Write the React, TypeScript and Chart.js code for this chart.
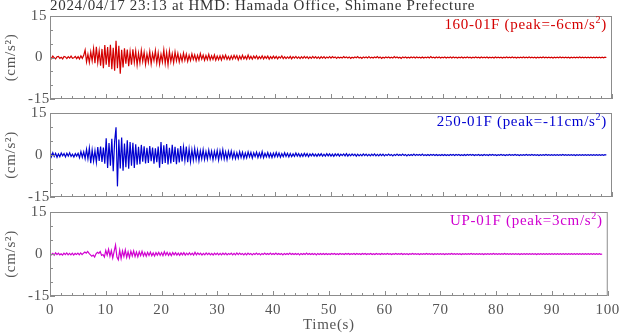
import React, { useEffect, useRef } from "react";
import { Chart, registerables } from "chart.js";

Chart.register(...registerables);

// ---------------- data ----------------
const CHART_TITLE = "2024/04/17 23:13 at HMD: Hamada Office, Shimane Prefecture";
const X_AXIS_TITLE = "Time(s)";
const Y_AXIS_TITLE = "(cm/s²)";
const SAMPLE_STEP = 0.25; // seconds between samples
const X_MIN = 0;
const X_MAX = 100;
const Y_MIN = -15;
const Y_MAX = 15;

// label = main text + superscript + closing text
const NS_LABEL = ["160-01F (peak=-6cm/s", "2", ")"];
const EW_LABEL = ["250-01F (peak=-11cm/s", "2", ")"];
const UD_LABEL = ["UP-01F (peak=3cm/s", "2", ")"];

const NS_VALUES = [
  0.2,-0.4,0.5,-0.1,-0.5,0.3,0.4,-0.3,0.1,-0.5,0.4,0.2,-0.4,0.3,-0.2,0.5,-0.3,-0.1,0.4,-0.4,
  0.3,-0.5,0.6,-0.3,0.8,2.7,-1.6,1.2,-1.8,2.0,-1.2,3.2,-2.1,3.9,-1.8,2.4,-3.0,3.1,-3.9,4.5,
  -2.6,3.8,-3.4,4.6,-4.2,3.5,-4.8,6.0,-3.9,4.2,-5.9,2.8,-3.6,3.3,-2.2,2.9,-3.1,2.1,-2.6,3.0,
  -1.8,2.4,-2.7,1.6,-2.0,2.6,-1.4,1.9,-2.5,1.3,-1.7,2.2,-2.3,1.5,-1.1,2.5,-2.0,1.7,-2.4,1.2,
  -1.6,2.7,-2.2,1.8,-2.6,2.3,-1.5,1.4,-1.9,2.0,-1.2,1.5,-1.6,0.9,-1.3,1.6,-1.0,1.2,-1.4,0.8,
  -1.1,1.3,-0.7,1.0,-1.2,0.8,-0.9,1.4,-0.6,0.9,-1.0,0.7,-0.8,1.1,-0.9,0.6,-0.7,0.9,-1.0,0.5,
  -0.8,0.6,-0.9,0.7,-0.5,0.9,-0.7,0.4,-0.8,0.6,-0.6,0.8,-0.4,0.7,-0.9,0.5,-0.6,0.8,-0.5,0.4,
  -0.6,0.9,-0.5,0.4,-0.6,0.5,-0.3,0.6,-0.5,0.3,-0.4,0.6,-0.5,0.4,-0.3,0.5,-0.6,0.3,-0.4,0.5,
  -0.3,0.4,-0.5,0.3,-0.2,0.6,-0.4,0.3,-0.4,0.2,-0.3,0.4,-0.5,0.3,-0.2,0.4,-0.3,0.2,-0.4,0.3,
  -0.3,0.4,-0.2,0.3,-0.4,0.2,-0.3,0.4,-0.2,0.3,-0.3,0.2,-0.4,0.3,-0.2,0.3,-0.3,0.2,-0.2,0.3,
  -0.2,0.3,-0.1,0.2,-0.3,0.2,-0.2,0.1,-0.2,0.3,-0.1,0.2,-0.2,0.2,-0.3,0.1,-0.2,0.2,-0.1,0.3,
  -0.2,0.1,-0.3,0.2,-0.1,0.2,-0.2,0.3,-0.2,0.1,-0.2,0.2,-0.1,0.3,-0.2,0.2,-0.3,0.1,-0.2,0.2,
  -0.1,0.2,-0.2,0.1,-0.2,0.3,-0.1,0.2,-0.2,0.1,-0.3,0.2,-0.1,0.2,-0.2,0.1,-0.2,0.2,-0.1,0.2,
  -0.2,0.2,-0.1,0.1,-0.2,0.2,-0.2,0.1,-0.1,0.2,-0.2,0.3,-0.1,0.1,-0.2,0.2,-0.1,0.2,-0.2,0.1,
  -0.1,0.2,-0.2,0.1,-0.1,0.2,-0.2,0.2,-0.1,0.1,-0.2,0.1,-0.1,0.2,-0.2,0.1,-0.1,0.2,-0.1,0.1,
  -0.2,0.1,-0.1,0.2,-0.1,0.1,-0.2,0.2,-0.1,0.1,-0.1,0.2,-0.2,0.1,-0.1,0.1,-0.2,0.2,-0.1,0.1,
  -0.1,0.1,-0.2,0.1,-0.1,0.2,-0.1,0.1,-0.1,0.2,-0.1,0.1,-0.2,0.1,-0.1,0.1,-0.1,0.2,-0.1,0.1,
  -0.1,0.2,-0.1,0.1,-0.1,0.1,-0.2,0.1,-0.1,0.1,-0.1,0.2,-0.1,0.1,-0.1,0.1,-0.1,0.1,-0.2,0.1,
  -0.1,0.1,-0.1,0.2,-0.1,0.1,-0.1,0.1,-0.1,0.1,-0.2,0.1,-0.1,0.1,-0.1,0.1,-0.1,0.2,-0.1,0.1,
  -0.1,0.1,-0.1,0.1,-0.1,0.1,-0.1,0.1,-0.1,0.1,-0.1,0.1,-0.1,0.1,-0.1,0.1,0.0,
];

const EW_VALUES = [
  1.4,-0.6,0.8,-0.5,0.6,-0.8,0.4,-0.6,0.7,-0.3,0.5,-0.7,0.6,-0.4,0.8,-0.5,0.3,-0.7,0.5,-0.4,
  0.6,-1.0,1.2,-0.8,1.1,-1.3,2.0,-1.4,2.5,-2.9,1.8,-2.2,1.5,-2.6,2.8,-2.1,3.0,-2.5,2.7,-3.1,
  6.0,-4.6,4.3,-3.8,5.8,-5.8,4.9,9.9,-11.2,5.5,-4.8,6.2,-5.6,4.1,-4.4,5.3,-4.9,4.6,-3.8,4.4,
  -4.6,3.8,-3.5,2.9,-3.3,3.6,-2.4,3.1,-3.0,2.6,-2.8,3.2,-2.2,2.7,-3.1,2.4,-2.6,3.0,-4.5,4.6,
  -3.2,3.5,-2.8,3.9,-3.4,2.6,-3.0,3.6,-2.5,2.9,-3.3,2.4,-2.7,3.2,-2.3,2.8,-2.0,3.0,-2.6,2.2,
  -2.4,1.9,-1.8,2.3,-1.6,1.7,-2.0,1.5,-1.4,1.9,-1.6,1.2,-1.5,1.7,-1.1,1.4,-1.7,1.3,-1.2,1.6,
  -1.8,1.5,-1.2,1.9,-1.4,1.1,-1.6,1.3,-0.9,1.4,-1.2,1.0,-1.3,0.8,-1.1,1.2,-0.9,1.0,-1.2,0.7,
  -1.0,1.1,-0.7,0.9,-1.1,0.8,-0.6,1.0,-0.9,0.7,-0.8,1.2,-1.0,0.6,-0.7,0.9,-0.8,0.6,-0.9,0.7,
  -0.7,0.9,-0.6,0.7,-0.8,0.5,-0.6,0.8,-0.5,0.6,-0.7,0.5,-0.6,0.4,-0.5,0.7,-0.4,0.5,-0.6,0.4,
  -0.5,0.6,-0.4,0.5,-0.6,0.4,-0.3,0.5,-0.4,0.3,-0.5,0.4,-0.3,0.5,-0.4,0.3,-0.4,0.5,-0.3,0.4,
  -0.4,0.3,-0.5,0.4,-0.3,0.4,-0.4,0.3,-0.2,0.4,-0.3,0.5,-0.4,0.3,-0.3,0.4,-0.2,0.3,-0.4,0.3,
  -0.3,0.2,-0.3,0.4,-0.2,0.3,-0.3,0.2,-0.3,0.3,-0.2,0.4,-0.3,0.2,-0.3,0.3,-0.2,0.3,-0.3,0.2,
  -0.2,0.3,-0.2,0.2,-0.3,0.2,-0.2,0.3,-0.2,0.2,-0.2,0.3,-0.2,0.2,-0.3,0.2,-0.2,0.2,-0.2,0.3,
  -0.2,0.2,-0.1,0.2,-0.2,0.3,-0.2,0.1,-0.2,0.2,-0.2,0.2,-0.1,0.2,-0.2,0.2,-0.2,0.1,-0.2,0.2,
  -0.2,0.2,-0.2,0.1,-0.2,0.2,-0.1,0.2,-0.2,0.2,-0.1,0.2,-0.2,0.1,-0.2,0.2,-0.2,0.2,-0.1,0.2,
  -0.1,0.2,-0.2,0.1,-0.1,0.2,-0.2,0.1,-0.2,0.2,-0.1,0.1,-0.2,0.2,-0.1,0.2,-0.1,0.1,-0.2,0.1,
  -0.1,0.2,-0.1,0.1,-0.2,0.1,-0.1,0.2,-0.1,0.1,-0.1,0.2,-0.1,0.1,-0.2,0.1,-0.1,0.1,-0.1,0.2,
  -0.1,0.1,-0.1,0.2,-0.1,0.1,-0.1,0.1,-0.2,0.1,-0.1,0.1,-0.1,0.2,-0.1,0.1,-0.1,0.1,-0.1,0.1,
  -0.1,0.1,-0.1,0.1,-0.1,0.2,-0.1,0.1,-0.1,0.1,-0.1,0.1,-0.1,0.1,-0.2,0.1,-0.1,0.1,-0.1,0.1,
  -0.1,0.1,-0.1,0.1,-0.1,0.1,-0.1,0.1,-0.1,0.1,-0.1,0.1,-0.1,0.1,-0.1,0.1,0.0,
];

const UD_VALUES = [
  0.3,-0.3,0.2,-0.4,0.4,-0.2,0.3,-0.3,0.1,-0.4,0.3,-0.2,0.4,-0.3,0.2,-0.3,0.3,-0.4,0.2,-0.2,
  0.3,-0.3,0.4,-0.2,0.3,0.7,0.3,0.9,0.2,-0.3,-0.8,-0.4,-1.1,0.1,0.6,0.2,0.9,-0.5,-0.2,-1.1,
  1.3,-0.4,1.7,-0.8,1.2,-1.4,0.9,3.2,-1.1,-2.1,1.4,-1.6,1.1,-0.9,1.5,-1.2,0.8,-1.3,1.0,-0.7,
  1.1,-0.9,0.7,-1.0,0.8,-0.6,1.0,-0.7,0.5,-0.8,0.6,-0.5,0.7,-0.6,0.4,-0.7,0.5,-0.4,0.6,-0.5,
  0.5,-0.6,0.8,-0.4,0.6,-0.5,0.4,-0.6,0.5,-0.3,0.5,-0.4,0.3,-0.5,0.4,-0.3,0.5,-0.4,0.3,-0.3,
  0.4,-0.3,0.3,-0.4,0.6,-0.3,0.4,-0.2,0.3,-0.4,0.2,-0.3,0.4,-0.2,0.3,-0.3,0.2,-0.4,0.3,-0.2,
  0.3,-0.3,0.2,-0.3,0.3,-0.2,0.3,-0.3,0.2,-0.2,0.3,-0.3,0.2,-0.3,0.4,-0.2,0.3,-0.2,0.2,-0.3,
  0.2,-0.3,0.3,-0.2,0.2,-0.3,0.2,-0.2,0.3,-0.2,0.2,-0.3,0.2,-0.2,0.3,-0.2,0.2,-0.2,0.3,-0.2,
  0.2,-0.2,0.3,-0.2,0.2,-0.2,0.2,-0.3,0.2,-0.2,0.2,-0.2,0.3,-0.2,0.2,-0.2,0.2,-0.2,0.2,-0.3,
  0.2,-0.2,0.2,-0.2,0.3,-0.2,0.2,-0.2,0.2,-0.2,0.2,-0.3,0.2,-0.2,0.2,-0.2,0.2,-0.2,0.2,-0.2,
  0.1,-0.2,0.2,-0.1,0.2,-0.2,0.1,-0.2,0.2,-0.1,0.1,-0.2,0.2,-0.1,0.2,-0.2,0.1,-0.1,0.2,-0.2,
  0.2,-0.1,0.1,-0.2,0.2,-0.1,0.2,-0.2,0.1,-0.1,0.2,-0.2,0.1,-0.2,0.2,-0.1,0.1,-0.2,0.2,-0.1,
  0.1,-0.1,0.2,-0.1,0.1,-0.2,0.1,-0.1,0.2,-0.1,0.1,-0.1,0.2,-0.2,0.1,-0.1,0.1,-0.2,0.1,-0.1,
  0.2,-0.1,0.1,-0.1,0.1,-0.2,0.1,-0.1,0.1,-0.1,0.2,-0.1,0.1,-0.1,0.1,-0.2,0.1,-0.1,0.1,-0.1,
  0.1,-0.1,0.1,-0.2,0.1,-0.1,0.1,-0.1,0.2,-0.1,0.1,-0.1,0.1,-0.1,0.1,-0.2,0.1,-0.1,0.1,-0.1,
  0.1,-0.1,0.2,-0.1,0.1,-0.1,0.1,-0.1,0.1,-0.1,0.1,-0.2,0.1,-0.1,0.1,-0.1,0.1,-0.1,0.2,-0.1,
  0.1,-0.1,0.1,-0.1,0.1,-0.1,0.2,-0.1,0.1,-0.1,0.1,-0.1,0.1,-0.1,0.1,-0.1,0.1,-0.2,0.1,-0.1,
  0.1,-0.1,0.1,-0.1,0.1,-0.1,0.1,-0.1,0.1,-0.2,0.1,-0.1,0.1,-0.1,0.1,-0.1,0.1,-0.1,0.1,-0.1,
  0.1,-0.1,0.1,-0.1,0.1,-0.1,0.1,-0.1,0.1,-0.1,0.1,-0.1,0.1,-0.1,0.1,-0.1,0.1,-0.1,0.1,-0.1,
  0.1,-0.1,0.1,-0.1,0.1,-0.1,0.1,-0.1,0.1,-0.1,0.1,-0.1,0.1,-0.1,0.1,-0.1,0.0,
];

// ---------------- style ----------------
const FONT_FAMILY = "'Liberation Serif', 'Times New Roman', serif";
const FONT_SIZE = 15;
const LETTER_SPACING = "0.7px";
const TEXT_GRAY = "#555555";
const FRAME_GRAY = "#8c8c8c";

const spacingPlugin = {
  id: "letterSpacing",
  beforeDraw(chart: any) {
    (chart.ctx as any).letterSpacing = LETTER_SPACING;
  },
};

const framePlugin = {
  id: "seisFrame",
  afterDatasetsDraw(chart: any, _args: any, opts: any) {
    const { ctx, chartArea: a, scales } = chart;
    const xs = scales.x;
    const ys = scales.y;
    ctx.save();
    ctx.strokeStyle = FRAME_GRAY;
    ctx.lineWidth = 1;
    ctx.strokeRect(a.left + 0.5, a.top + 0.5, a.right - a.left - 1, a.bottom - a.top - 1);
    ctx.beginPath();
    for (let v = X_MIN; v <= X_MAX; v += 2) {
      const px = Math.round(xs.getPixelForValue(v)) + 0.5;
      const len = v % 10 === 0 ? 5 : 3;
      ctx.moveTo(px, a.bottom);
      ctx.lineTo(px, a.bottom - len);
    }
    for (let v = Y_MIN; v <= Y_MAX; v += 5) {
      const py = Math.round(ys.getPixelForValue(v)) + 0.5;
      const len = v % 15 === 0 ? 5 : 3;
      ctx.moveTo(a.left, py);
      ctx.lineTo(a.left + len, py);
    }
    ctx.stroke();

    // panel label, right aligned, with a superscript
    const [main, sup, tail] = opts.label as string[];
    (ctx as any).letterSpacing = LETTER_SPACING;
    ctx.fillStyle = opts.color;
    ctx.textAlign = "left";
    ctx.textBaseline = "alphabetic";
    const bigFont = `${FONT_SIZE}px ${FONT_FAMILY}`;
    const supFont = `10px ${FONT_FAMILY}`;
    ctx.font = bigFont;
    const wMain = ctx.measureText(main).width;
    const wTail = ctx.measureText(tail).width;
    ctx.font = supFont;
    const wSup = ctx.measureText(sup).width;
    const base = a.top + 13;
    let x = a.right - 5 - (wMain + wSup + wTail);
    ctx.font = bigFont;
    ctx.fillText(main, x, base);
    x += wMain;
    ctx.font = supFont;
    ctx.fillText(sup, x, base - 6);
    x += wSup;
    ctx.font = bigFont;
    ctx.fillText(tail, x, base);

    if (opts.title) {
      ctx.fillStyle = "#333333";
      ctx.font = bigFont;
      ctx.fillText(opts.title, a.left, 10);
    }
    ctx.restore();
  },
};

type PanelProps = {
  top: number;
  height: number;
  padTop: number;
  padBottom: number;
  values: number[];
  color: string;
  label: string[];
  showX: boolean;
  title?: string;
};

function Panel({ top, height, padTop, padBottom, values, color, label, showX, title }: PanelProps) {
  const ref = useRef<HTMLCanvasElement | null>(null);
  useEffect(() => {
    if (!ref.current) return;
    const points = values.map((v, i) => ({ x: i * SAMPLE_STEP, y: v }));
    const font = { family: FONT_FAMILY, size: FONT_SIZE };
    const chart = new Chart(ref.current, {
      type: "line",
      data: {
        datasets: [
          {
            data: points,
            borderColor: color,
            borderWidth: 1.2,
            pointRadius: 0,
            tension: 0,
            fill: false,
          },
        ],
      },
      plugins: [spacingPlugin, framePlugin],
      options: {
        responsive: false,
        animation: false,
        events: [],
        layout: { padding: { top: padTop, bottom: padBottom, left: 0, right: 12 } },
        plugins: {
          legend: { display: false },
          tooltip: { enabled: false },
          title: { display: false },
          seisFrame: { color, label, title },
        } as any,
        scales: {
          x: {
            type: "linear",
            min: X_MIN,
            max: X_MAX,
            display: showX,
            ticks: { stepSize: 10, color: TEXT_GRAY, font, padding: 5, maxRotation: 0, autoSkip: false },
            grid: { display: false, drawTicks: false },
            border: { display: false },
            title: { display: true, text: X_AXIS_TITLE, color: TEXT_GRAY, font, padding: 0 },
            afterFit: (s: any) => {
              if (showX) s.height = 38;
            },
          },
          y: {
            type: "linear",
            min: Y_MIN,
            max: Y_MAX,
            ticks: { stepSize: 15, color: TEXT_GRAY, font, padding: 1, crossAlign: "center" },
            grid: { display: false, drawTicks: false },
            border: { display: false },
            title: { display: true, text: Y_AXIS_TITLE, color: TEXT_GRAY, font, padding: { top: 2, bottom: 0 } },
            afterFit: (s: any) => {
              s.width = 50;
            },
          },
        },
      } as any,
    });
    return () => chart.destroy();
  }, []);
  return (
    <canvas
      ref={ref}
      width={624}
      height={height}
      style={{ position: "absolute", left: 0, top, width: 624, height, display: "block" }}
    />
  );
}

export default function App() {
  return (
    <div style={{ position: "absolute", left: 0, top: 0, width: 624, height: 334, background: "#ffffff" }}>
      <Panel top={0} height={113} padTop={16} padBottom={14} values={NS_VALUES} color="#d40000" label={NS_LABEL} showX={false} title={CHART_TITLE} />
      <Panel top={99} height={113} padTop={14} padBottom={15} values={EW_VALUES} color="#0000d0" label={EW_LABEL} showX={false} />
      <Panel top={197} height={137} padTop={15} padBottom={0} values={UD_VALUES} color="#d000d0" label={UD_LABEL} showX={true} />
    </div>
  );
}
